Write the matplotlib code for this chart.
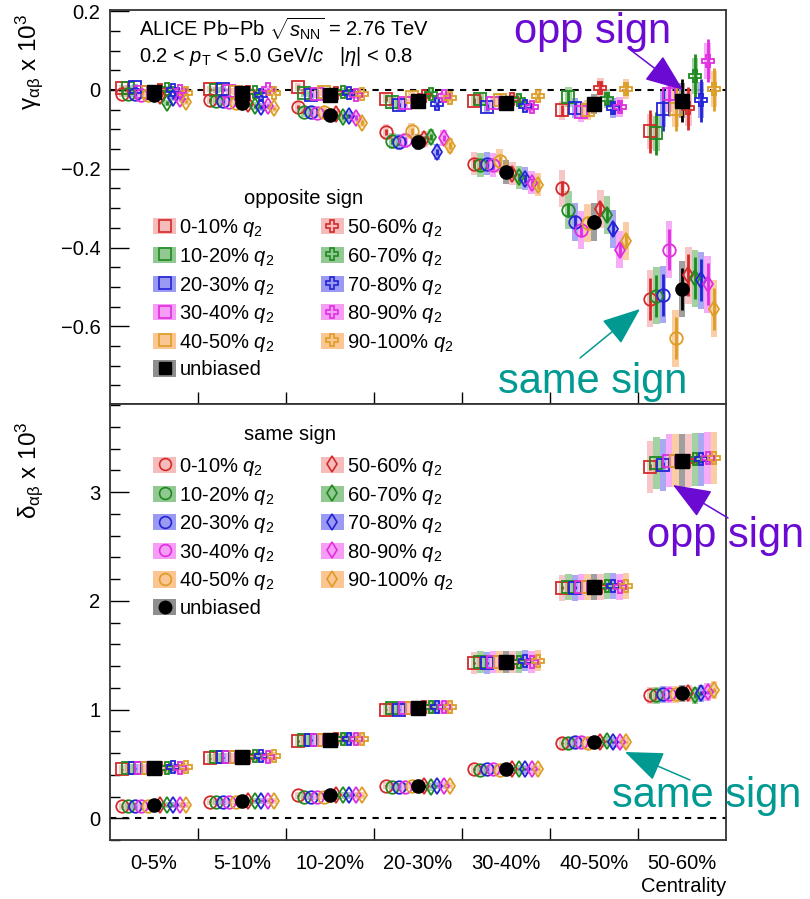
import numpy as np
import matplotlib
matplotlib.use("Agg")
import matplotlib.pyplot as plt
from matplotlib.patches import Rectangle, Patch, FancyArrowPatch
from matplotlib.lines import Line2D
from matplotlib.ticker import MultipleLocator, FixedLocator

plt.rcParams['font.family'] = ['Liberation Sans', 'DejaVu Sans']
plt.rcParams['mathtext.fontset'] = 'custom'
plt.rcParams['mathtext.rm'] = 'Liberation Sans'
plt.rcParams['mathtext.it'] = 'Liberation Sans:italic'
plt.rcParams['mathtext.bf'] = 'Liberation Sans:bold'

# ---- data (values x 10^3) ----
centralities = ['0-5%', '5-10%', '10-20%', '20-30%', '30-40%', '40-50%', '50-60%']
q2_classes = ['0-10%', '10-20%', '20-30%', '30-40%', '40-50%',
              '50-60%', '60-70%', '70-80%', '80-90%', '90-100%']

# gamma, opposite sign (rows: q2 classes, cols: centrality)
gamma_os = [
    [0.005, 0.002, 0.008, -0.022, -0.028, -0.052, -0.105],
    [0.004, 0.000, -0.008, -0.030, -0.024, -0.018, -0.110],
    [0.008, 0.002, -0.012, -0.038, -0.043, -0.046, -0.048],
    [-0.004, -0.002, -0.010, -0.034, -0.033, -0.055, -0.010],
    [-0.006, -0.004, -0.005, -0.018, -0.026, -0.050, -0.048],
    [0.000, -0.004, -0.008, -0.016, -0.022, 0.005, -0.047],
    [0.002, -0.005, -0.004, -0.009, -0.026, -0.022, 0.036],
    [0.000, -0.013, -0.008, -0.036, -0.040, -0.046, -0.026],
    [-0.003, 0.002, -0.012, -0.016, -0.042, -0.043, 0.074],
    [-0.008, -0.007, -0.010, -0.020, -0.016, 0.002, 0.002],
]
gamma_os_unb = [-0.005, -0.008, -0.012, -0.027, -0.033, -0.036, -0.027]
gamma_os_stat = [0.004, 0.004, 0.005, 0.006, 0.008, 0.015, 0.055]
gamma_os_sys = [0.008, 0.008, 0.010, 0.012, 0.015, 0.025, 0.045]

# gamma, same sign
gamma_ss = [
    [-0.010, -0.025, -0.043, -0.107, -0.187, -0.250, -0.530],
    [-0.010, -0.028, -0.056, -0.130, -0.190, -0.305, -0.522],
    [-0.011, -0.028, -0.056, -0.132, -0.187, -0.335, -0.520],
    [-0.012, -0.030, -0.058, -0.128, -0.190, -0.355, -0.405],
    [-0.012, -0.033, -0.055, -0.105, -0.180, -0.338, -0.630],
    [-0.016, -0.036, -0.060, -0.125, -0.212, -0.302, -0.470],
    [-0.033, -0.040, -0.068, -0.119, -0.222, -0.318, -0.478],
    [-0.020, -0.043, -0.066, -0.157, -0.225, -0.352, -0.483],
    [-0.022, -0.040, -0.070, -0.122, -0.235, -0.405, -0.493],
    [-0.030, -0.047, -0.083, -0.141, -0.240, -0.383, -0.555],
]
gamma_ss_unb = [-0.013, -0.034, -0.064, -0.132, -0.208, -0.335, -0.505]
gamma_ss_stat = [0.004, 0.005, 0.006, 0.008, 0.012, 0.018, 0.053]
gamma_ss_sys = [0.008, 0.010, 0.012, 0.020, 0.030, 0.048, 0.072]

# delta, opposite sign
delta_os = [
    [0.45, 0.55, 0.71, 1.00, 1.43, 2.12, 3.23],
    [0.46, 0.56, 0.72, 1.01, 1.44, 2.13, 3.27],
    [0.46, 0.56, 0.72, 1.00, 1.43, 2.12, 3.25],
    [0.46, 0.56, 0.72, 1.01, 1.44, 2.13, 3.29],
    [0.46, 0.56, 0.72, 1.01, 1.44, 2.13, 3.29],
    [0.46, 0.56, 0.73, 1.02, 1.44, 2.13, 3.29],
    [0.46, 0.57, 0.73, 1.02, 1.44, 2.14, 3.30],
    [0.47, 0.57, 0.73, 1.02, 1.45, 2.14, 3.30],
    [0.46, 0.56, 0.73, 1.02, 1.44, 2.13, 3.31],
    [0.47, 0.57, 0.73, 1.02, 1.45, 2.14, 3.31],
]
delta_os_unb = [0.46, 0.56, 0.72, 1.01, 1.44, 2.13, 3.29]
delta_os_stat = [0.005, 0.005, 0.006, 0.008, 0.010, 0.015, 0.030]
delta_os_sys = [0.04, 0.04, 0.05, 0.06, 0.10, 0.12, 0.24]

# delta, same sign
delta_ss = [
    [0.11, 0.15, 0.21, 0.30, 0.45, 0.69, 1.13],
    [0.11, 0.15, 0.20, 0.29, 0.44, 0.69, 1.13],
    [0.11, 0.15, 0.20, 0.29, 0.45, 0.70, 1.14],
    [0.11, 0.15, 0.20, 0.29, 0.45, 0.70, 1.14],
    [0.11, 0.15, 0.20, 0.30, 0.44, 0.69, 1.14],
    [0.12, 0.16, 0.21, 0.30, 0.45, 0.70, 1.15],
    [0.12, 0.16, 0.21, 0.29, 0.45, 0.71, 1.13],
    [0.12, 0.16, 0.21, 0.30, 0.45, 0.70, 1.15],
    [0.12, 0.16, 0.21, 0.30, 0.45, 0.70, 1.16],
    [0.12, 0.16, 0.21, 0.30, 0.45, 0.70, 1.18],
]
delta_ss_unb = [0.12, 0.16, 0.21, 0.30, 0.45, 0.70, 1.15]
delta_ss_stat = [0.005, 0.005, 0.005, 0.006, 0.008, 0.010, 0.020]
delta_ss_sys = [0.03, 0.03, 0.03, 0.035, 0.04, 0.05, 0.08]

# ---- styles ----
colors = ['#d42a2a', '#1f8a1f', '#2424d6', '#e02ee0', '#dc9e24'] * 2
box_colors = ['#f6bcbc', '#92c992', '#9a9af2', '#f69ef6', '#fbc594'] * 2
purple = '#6a0ad2'
teal = '#009a93'
dx = 0.073
FS = 14.5


def draw_points(ax, vals, unb, stat, sys, mk_lo, mk_hi, mk_unb):
    xc = np.arange(len(centralities)) + 0.5
    series = list(vals[:5]) + [unb] + list(vals[5:])
    for k, v in enumerate(series):
        x = xc + (k - 5) * dx
        v = np.asarray(v)
        if k == 5:
            c, bc, mk = 'black', '#8e8e8e', mk_unb
        else:
            i = k if k < 5 else k - 1
            c, bc = colors[i], box_colors[i]
            mk = mk_lo if k < 5 else mk_hi
        # systematic boxes
        for xi, vi, s in zip(x, v, sys):
            ax.add_patch(Rectangle((xi - dx / 2, vi - s), dx, 2 * s,
                                   facecolor=bc, edgecolor='none', alpha=0.85, zorder=1))
        ax.errorbar(x, v, yerr=stat, fmt='none', ecolor=c, elinewidth=2, capsize=0, zorder=2)
        if k == 5:
            ax.plot(x, v, mk, color='black', ms=9.5, ls='none', zorder=4)
        else:
            ms = 9 if mk != 'd' else 8.5
            ax.plot(x, v, mk, mfc='none', mec=c, mew=1.3, ms=ms, ls='none', zorder=3)


def make_legend(ax, mk_lo, mk_hi, mk_unb, anchor):
    handles, labels = [], []
    for i in range(5):
        handles.append((Patch(facecolor=box_colors[i], edgecolor='none'),
                        Line2D([], [], marker=mk_lo, mfc='none', mec=colors[i], mew=1.2, ms=8.5, ls='none')))
        labels.append(q2_classes[i] + r' $q_2$')
    handles.append((Patch(facecolor='#8e8e8e', edgecolor='none'),
                    Line2D([], [], marker=mk_unb, color='black', ms=9, ls='none')))
    labels.append('unbiased')
    for i in range(5, 10):
        handles.append((Patch(facecolor=box_colors[i], edgecolor='none'),
                        Line2D([], [], marker=mk_hi, mfc='none', mec=colors[i], mew=1.2, ms=8.5, ls='none')))
        labels.append(q2_classes[i] + r' $q_2$')
    leg = ax.legend(handles, labels, ncol=2, loc='upper left', bbox_to_anchor=anchor,
                    frameon=False, fontsize=FS,
                    handlelength=1.15, handleheight=0.85, handletextpad=0.15,
                    columnspacing=2.3, labelspacing=0.33, borderpad=0, borderaxespad=0)
    return leg


def style_axes(ax, labels_on):
    ax.set_xlim(0, 7)
    ax.xaxis.set_major_locator(FixedLocator(np.arange(7) + 0.5))
    ax.xaxis.set_minor_locator(FixedLocator(np.arange(1, 7)))
    if labels_on:
        ax.set_xticklabels(centralities, fontsize=FS)
    else:
        ax.set_xticklabels([])
    ax.tick_params(axis='x', which='major', length=0, pad=10)
    ax.tick_params(axis='x', which='minor', direction='in', length=8.5, width=1, top=False)
    ax.tick_params(axis='y', which='major', direction='in', length=13.5, width=1,
                   right=False, labelsize=FS, pad=7)
    ax.tick_params(axis='y', which='minor', direction='in', length=7, width=1, right=False)
    for sp in ax.spines.values():
        sp.set_linewidth(1.3)
        sp.set_color('#333333')
    ax.axhline(0, color='black', ls=(0, (3, 3)), lw=1.5, zorder=0.5)


fig = plt.figure(figsize=(8.1, 8.99), dpi=100)
ax1 = fig.add_axes([110 / 810, 1 - 404 / 899, 616 / 810, 394 / 899])
ax2 = fig.add_axes([110 / 810, 1 - 840 / 899, 616 / 810, 436 / 899])

# top panel: gamma
draw_points(ax1, gamma_os, gamma_os_unb, gamma_os_stat, gamma_os_sys, 's', 'P', 's')
draw_points(ax1, gamma_ss, gamma_ss_unb, gamma_ss_stat, gamma_ss_sys, 'o', 'd', 'o')
ax1.set_ylim(-0.797, 0.203)
ax1.yaxis.set_major_locator(MultipleLocator(0.2))
ax1.yaxis.set_minor_locator(MultipleLocator(0.05))
style_axes(ax1, False)
ax1.set_yticklabels(['' if abs(t + 0.8) < 1e-6 else ('0' if abs(t) < 1e-9 else f'{t:.1f}'.replace('-', '\u2212'))
                     for t in ax1.get_yticks()])
make_legend(ax1, 's', 'P', 's', (0.07, 0.474))
ax1.text(0.315, 0.522, 'opposite sign', transform=ax1.transAxes, fontsize=FS,
         ha='center', va='center')

# bottom panel: delta
draw_points(ax2, delta_os, delta_os_unb, delta_os_stat, delta_os_sys, 's', 'P', 's')
draw_points(ax2, delta_ss, delta_ss_unb, delta_ss_stat, delta_ss_sys, 'o', 'd', 'o')
ax2.set_ylim(-0.2, 3.81)
ax2.yaxis.set_major_locator(MultipleLocator(1))
ax2.yaxis.set_minor_locator(MultipleLocator(0.2))
style_axes(ax2, True)
make_legend(ax2, 'o', 'd', 'o', (0.07, 0.881))
ax2.text(0.292, 0.929, 'same sign', transform=ax2.transAxes, fontsize=FS,
         ha='center', va='center')


def px(x, y):
    return (x / 810, 1 - y / 899)


# axis titles
fig.text(*px(29, 62), r'$\mathrm{\gamma}_{\mathrm{\alpha\beta}}$ x 10$^3$', rotation=90, fontsize=17.5,
         ha='center', va='center')
fig.text(*px(29, 470), r'$\mathrm{\delta}_{\mathrm{\alpha\beta}}$ x 10$^3$', rotation=90, fontsize=17.5,
         ha='center', va='center')
fig.text(*px(726, 887), 'Centrality', fontsize=FS, ha='right', va='center')

# header text
fig.text(*px(139, 36), r'ALICE Pb$-$Pb $\sqrt{s_{\mathrm{NN}}}$ = 2.76 TeV', fontsize=FS,
         ha='left', va='baseline')
fig.text(*px(139, 62), r'0.2 < $p_{\mathrm{T}}$ < 5.0 GeV/$c$   $|\eta|$ < 0.8', fontsize=FS,
         ha='left', va='baseline')

# annotations
fig.text(*px(593, 43), 'opp sign', color=purple, fontsize=30, ha='center', va='baseline')
fig.text(*px(726, 547), 'opp sign', color=purple, fontsize=30, ha='center', va='baseline')
fig.text(*px(593, 393), 'same sign', color=teal, fontsize=30, ha='center', va='baseline')
fig.text(*px(707, 807), 'same sign', color=teal, fontsize=30, ha='center', va='baseline')

arrows = [((628, 48), (683, 90), purple),
          ((728, 518), (673, 485), purple),
          ((580, 358), (640, 309), teal),
          ((690, 780), (625, 752), teal)]
for tail, tip, col in arrows:
    arr = FancyArrowPatch(px(*tail), px(*tip), transform=fig.transFigure,
                          arrowstyle='-|>,head_length=2.4,head_width=0.95',
                          mutation_scale=10, color=col, lw=1.1,
                          shrinkA=0, shrinkB=0, zorder=10)
    fig.add_artist(arr)

fig.savefig('out.png', dpi=100)
